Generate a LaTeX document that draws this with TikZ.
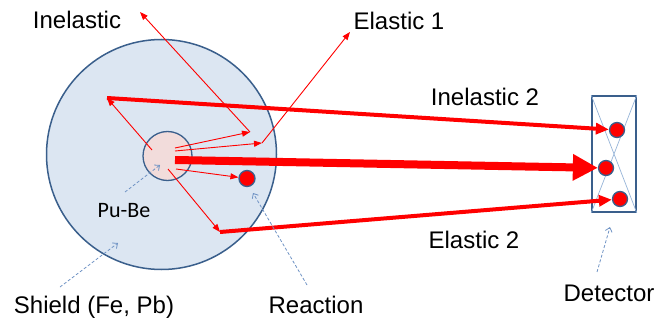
\documentclass[tikz,border=0pt]{standalone}
\usepackage{fontspec}
\setmainfont{Liberation Sans}
\newfontfamily\calib{Carlito}
\usetikzlibrary{arrows.meta}
\definecolor{shieldfill}{HTML}{DCE6F2}
\definecolor{edgeblue}{HTML}{3A5F8C}
\definecolor{pinkfill}{HTML}{F2DCDB}
\definecolor{xblue}{HTML}{95B3D7}
\definecolor{dashblue}{HTML}{6F93C4}
\tikzset{
  lbl/.style={inner sep=0pt, font=\fontsize{24}{28}\selectfont},
  thinray/.style={draw=red, line width=0.9pt, -{Triangle[length=8pt,width=6pt]}},
  thickray/.style={draw=red, line width=4pt, -{Triangle[length=13pt,width=11pt]}},
  beam/.style={draw=red, line width=8pt, -{Triangle[length=25pt,width=25pt]}},
  pointer/.style={draw=dashblue, line width=0.8pt, dash pattern=on 3pt off 2pt, -{Straight Barb[length=4pt,width=7pt]}},
  hitdot/.style={circle, draw=edgeblue, fill=red, line width=1.3pt, minimum size=15pt, inner sep=0pt}
}
\begin{document}
\begin{tikzpicture}[x=1pt,y=-1pt]
\useasboundingbox (0,0) rectangle (668,323);
% shield and source
\node[circle, draw=edgeblue, fill=shieldfill, line width=1.5pt, minimum size=230pt, inner sep=0pt] (shield) at (161.5,154.5) {};
\node[circle, draw=edgeblue, fill=pinkfill, line width=1.3pt, minimum size=49pt, inner sep=0pt] (pube) at (167.5,156) {};
\node[hitdot, minimum size=16pt] (react) at (247,178.5) {};
% detector
\node[draw=edgeblue, line width=1.5pt, minimum width=44pt, minimum height=116pt, inner sep=0pt] (det) at (614,154) {};
\draw[xblue, line width=0.7pt] (det.north west) -- (det.south east) (det.north east) -- (det.south west);
% key points
\coordinate (s1) at (152,150);
\coordinate (b1) at (107,98);
\coordinate (s2) at (175,148);
\coordinate (b2) at (250,132);
\coordinate (e2) at (140,12);
\coordinate (s3) at (175,151);
\coordinate (b3) at (262,143);
\coordinate (e3) at (350,32);
\coordinate (s4) at (175,160);
\coordinate (s5) at (176,169);
\coordinate (s6) at (168,169);
\coordinate (b6) at (220,232);
% rays
\draw[thinray] (s1) -- (b1);
\draw[thinray] (s2) -- (b2);
\draw[thinray] (b2) -- (e2);
\draw[thinray] (s3) -- (b3);
\draw[thinray] (b3) -- (e3);
\draw[thinray] (s5) -- (react);
\draw[thinray] (s6) -- (b6);
% detector hits
\node[hitdot] (d1) at (617,130) {};
\node[hitdot] (d2) at (606,168) {};
\node[hitdot] (d3) at (620,199) {};
\draw[thickray] (b1) -- (d1);
\draw[beam] (s4) -- (d2);
\draw[thickray] (b6) -- (d3);
% labels
\node[lbl] (linel) at (77,20) {Inelastic};
\node[lbl] (lel1) at (399,21) {Elastic 1};
\node[lbl] (linel2) at (485,97) {Inelastic 2};
\node[lbl] (lel2) at (474,240) {Elastic 2};
\node[lbl] (ldet) at (609,293) {Detector};
\node[lbl] (lshield) at (94,307) {Shield (Fe, Pb)};
\node[lbl] (lreact) at (316,305) {Reaction};
\node[inner sep=0pt, font=\calib\fontsize{22}{26}\selectfont] (lpube) at (124,211) {Pu-Be};
% pointers
\coordinate (p1a) at (125,192);
\coordinate (p1b) at (160,165);
\coordinate (p2a) at (60,287);
\coordinate (p2b) at (118,243);
\coordinate (p3a) at (307,285);
\coordinate (p3b) at (253,193);
\coordinate (p4a) at (597,272);
\coordinate (p4b) at (610,227);
\draw[pointer] (p1a) -- (p1b);
\draw[pointer] (p2a) -- (p2b);
\draw[pointer] (p3a) -- (p3b);
\draw[pointer] (p4a) -- (p4b);
\end{tikzpicture}
\end{document}
